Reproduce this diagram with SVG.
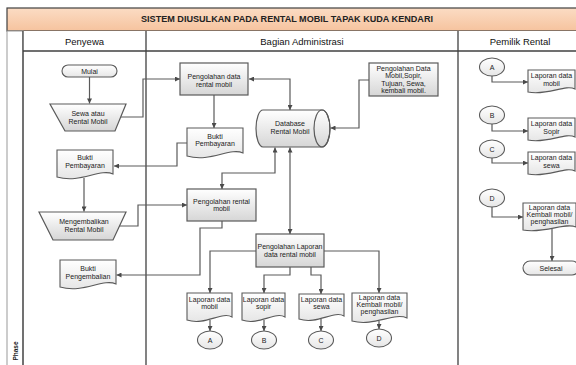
<svg xmlns="http://www.w3.org/2000/svg" width="576" height="365" viewBox="0 0 576 365">
<defs>
<linearGradient id="g" x1="0" y1="0" x2="0" y2="1"><stop offset="0" stop-color="#ffffff"/><stop offset="1" stop-color="#d6d6d6"/></linearGradient>
<linearGradient id="gd" x1="0" y1="0" x2="0" y2="1"><stop offset="0" stop-color="#ffffff"/><stop offset="1" stop-color="#e6e6e6"/></linearGradient>
<linearGradient id="gt" x1="0" y1="0" x2="0" y2="1"><stop offset="0" stop-color="#fbdcc4"/><stop offset="1" stop-color="#f6c39e"/></linearGradient>
<marker id="arr" viewBox="0 0 10 10" refX="10" refY="5" markerWidth="6" markerHeight="5" orient="auto-start-reverse" markerUnits="userSpaceOnUse"><path d="M0,0 L10,5 L0,10 z" fill="#4a4a4a"/></marker>
</defs>
<style>
.lane{fill:none;stroke:#404040;stroke-width:1.3}
.proc{fill:url(#g);stroke:#5a5a5a;stroke-width:1.2}
.doc{fill:url(#gd);stroke:#5a5a5a;stroke-width:1.1}
.term{fill:url(#gd);stroke:#5a5a5a;stroke-width:1.1}
.con{fill:none;stroke:#5a5a5a;stroke-width:1.2}
.a{marker-end:url(#arr)}
.b{marker-start:url(#arr);marker-end:url(#arr)}
text{font-family:"Liberation Sans",Arial,sans-serif;fill:#222;text-anchor:middle}
.t{font-size:7px}
.h{font-size:9.5px;fill:#111}
</style>
<rect x="0" y="0" width="576" height="365" fill="#ffffff"/>
<g id="frame">
<rect x="7" y="8" width="575" height="23" fill="url(#gt)" stroke="#404040" stroke-width="1.2"/>
<text x="287" y="22" font-size="9.5" font-weight="bold" fill="#111" textLength="292" lengthAdjust="spacingAndGlyphs">SISTEM DIUSULKAN PADA RENTAL MOBIL TAPAK KUDA KENDARI</text>
<rect x="7" y="31" width="16" height="340" fill="#ffffff" stroke="#9a9a9a" stroke-width="1"/>
<rect x="23" y="31" width="560" height="20" fill="#ffffff"/>
<line class="lane" x1="23" y1="31" x2="23" y2="370"/>
<line class="lane" x1="146" y1="31" x2="146" y2="370"/>
<line class="lane" x1="458" y1="31" x2="458" y2="370"/>
<line class="lane" x1="23" y1="51" x2="580" y2="51"/>
<text class="h" x="84.5" y="45">Penyewa</text>
<text class="h" x="302" y="45">Bagian Administrasi</text>
<text class="h" x="520" y="45">Pemilik Rental</text>
<text x="17.5" y="351" font-size="6.5" font-weight="bold" fill="#111" transform="rotate(-90 17.5 351)">Phase</text>
</g>
<g id="connectors">
<path class="con a" d="M89.5,77 V103.5"/>
<path class="con a" d="M120.7,117 H143 V79 H180"/>
<path class="con b" d="M249,79 H290 V110"/>
<path class="con a" d="M214,95 V128"/>
<path class="con a" d="M187,143 H177 V166 H114"/>
<path class="con a" d="M84,178 V211.5"/>
<path class="con a" d="M119.5,226 H138 V205 H187"/>
<path class="con b" d="M222,189 V173 H275 V147.5"/>
<path class="con a" d="M369,80 H359 V128 H330.5"/>
<path class="con b" d="M290,147.5 V234"/>
<path class="con a" d="M222,221 V228 H200 V275 H116.5"/>
<path class="con a" d="M256,251 H210 V293"/>
<path class="con a" d="M290,267 V275 H264 V293"/>
<path class="con a" d="M311,267 V275 H321 V294"/>
<path class="con a" d="M324,251 H379 V293"/>
<path class="con a" d="M210,320 V331"/>
<path class="con a" d="M264,320 V331"/>
<path class="con a" d="M321,319 V331"/>
<path class="con a" d="M379,321 V329"/>
<path class="con a" d="M492,76 V82 H528"/>
<path class="con a" d="M492,124 V131 H528"/>
<path class="con a" d="M492,158 V163 H528"/>
<path class="con a" d="M492,207 V217 H523"/>
<path class="con a" d="M552,229 V261"/>
</g>
<g id="mulai"><rect class="term" x="62" y="65" width="55" height="12" rx="6"/><text class="t" x="89.5" y="73.5">Mulai</text></g>
<g id="sewa"><path class="proc" d="M50,104 H126 L115,131 H65 Z"/><text class="t" x="88" y="115.5">Sewa atau</text><text class="t" x="88" y="123.5">Rental Mobil</text></g>
<g id="bukti-bayar-penyewa"><path class="doc" d="M57,150 H113 V174 C100,168 80,184 57,177 Z"/><text class="t" x="85" y="159.5">Bukti</text><text class="t" x="85" y="168">Pembayaran</text></g>
<g id="mengembalikan"><path class="proc" d="M39,212 H126 L113,240 H53 Z"/><text class="t" x="84" y="224">Mengembalikan</text><text class="t" x="84" y="232">Rental Mobil</text></g>
<g id="bukti-kembali"><path class="doc" d="M60,260 H116 V284 C103,278 83,294 60,287 Z"/><text class="t" x="88" y="270.5">Bukti</text><text class="t" x="88" y="278.5">Pengembalian</text></g>
<g id="proses-data"><rect class="proc" x="180" y="63" width="68" height="32"/><text class="t" x="214" y="79">Pengolahan data</text><text class="t" x="214" y="87">rental mobil</text></g>
<g id="bukti-bayar-admin"><path class="doc" d="M187,128 H243 V153 C230,147 210,163 187,156 Z"/><text class="t" x="215" y="138.5">Bukti</text><text class="t" x="215" y="146">Pembayaran</text></g>
<g id="database"><path class="proc" d="M263,110 H322 A8,18.5 0 0 1 322,147 H263 A7,18.5 0 0 1 263,110 Z"/><ellipse cx="322" cy="128.5" rx="8" ry="18.5" fill="none" stroke="#5a5a5a" stroke-width="1.2"/><text class="t" x="290" y="125.5">Database</text><text class="t" x="290" y="134">Rental Mobil</text></g>
<g id="olah-data-master"><rect class="proc" x="369" y="63" width="69" height="33"/><text class="t" x="403.5" y="70.5">Pengolahan Data</text><text class="t" x="403.5" y="78">Mobil,Sopir,</text><text class="t" x="403.5" y="85.5">Tujuan, Sewa,</text><text class="t" x="403.5" y="93">kembali mobil.</text></g>
<g id="proses-rental"><rect class="proc" x="187" y="189" width="69" height="32"/><text class="t" x="221.5" y="203.5">Pengolahan rental</text><text class="t" x="221.5" y="211">mobil</text></g>
<g id="proses-laporan"><rect class="proc" x="256" y="234" width="68" height="33"/><text class="t" x="290" y="249">Pengolahan Laporan</text><text class="t" x="290" y="256.5">data rental mobil</text></g>
<g id="lap-mobil"><path class="doc" d="M187,293 H232 V317 C222,311 205,326 187,320 Z"/><text class="t" x="209.5" y="301.5">Laporan data</text><text class="t" x="209.5" y="309">mobil</text></g>
<g id="lap-sopir"><path class="doc" d="M242,293 H285 V317 C275,311 259,326 242,320 Z"/><text class="t" x="263.5" y="301.5">Laporan data</text><text class="t" x="263.5" y="309">sopir</text></g>
<g id="lap-sewa"><path class="doc" d="M299,294 H344 V316 C334,310 317,325 299,319 Z"/><text class="t" x="321.5" y="302">Laporan data</text><text class="t" x="321.5" y="309">sewa</text></g>
<g id="lap-kembali"><path class="doc" d="M352,293 H407 V318 C394,312 374,327 352,321 Z"/><text class="t" x="379.5" y="300">Laporan data</text><text class="t" x="379.5" y="307">Kembali mobil/</text><text class="t" x="379.5" y="314">penghasilan</text></g>
<g id="conn-a1"><ellipse class="term" cx="210" cy="340" rx="12.5" ry="9"/><text class="t" x="210" y="342.5">A</text></g>
<g id="conn-b1"><ellipse class="term" cx="264" cy="340" rx="12.5" ry="9"/><text class="t" x="264" y="342.5">B</text></g>
<g id="conn-c1"><ellipse class="term" cx="321" cy="340" rx="12.5" ry="9"/><text class="t" x="321" y="342.5">C</text></g>
<g id="conn-d1"><ellipse class="term" cx="379" cy="338" rx="12.5" ry="9"/><text class="t" x="379" y="340.5">D</text></g>
<g id="conn-a2"><ellipse class="term" cx="492" cy="67" rx="12.5" ry="9"/><text class="t" x="492" y="69.5">A</text></g>
<g id="conn-b2"><ellipse class="term" cx="492" cy="115" rx="12.5" ry="9"/><text class="t" x="492" y="117.5">B</text></g>
<g id="conn-c2"><ellipse class="term" cx="492" cy="149" rx="12.5" ry="9"/><text class="t" x="492" y="151.5">C</text></g>
<g id="conn-d2"><ellipse class="term" cx="492" cy="198" rx="12.5" ry="9"/><text class="t" x="492" y="200.5">D</text></g>
<g id="pem-mobil"><path class="doc" d="M528,70 H575 V89 C565,84 548,96 528,92 Z"/><text class="t" x="551.5" y="78">Laporan data</text><text class="t" x="551.5" y="85.5">mobil</text></g>
<g id="pem-sopir"><path class="doc" d="M528,118 H575 V137 C565,132 548,144 528,140 Z"/><text class="t" x="551.5" y="126">Laporan data</text><text class="t" x="551.5" y="133.5">Sopir</text></g>
<g id="pem-sewa"><path class="doc" d="M528,152 H575 V171 C565,166 548,178 528,174 Z"/><text class="t" x="551.5" y="160">Laporan data</text><text class="t" x="551.5" y="167.5">sewa</text></g>
<g id="pem-kembali"><path class="doc" d="M523,203 H576 V227 C565,222 545,234 523,230 Z"/><text class="t" x="549.5" y="210">Laporan data</text><text class="t" x="549.5" y="217">Kembali mobil/</text><text class="t" x="549.5" y="224">penghasilan</text></g>
<g id="selesai"><rect class="term" x="523" y="261" width="56" height="14" rx="7"/><text class="t" x="551" y="270.5">Selesai</text></g>
</svg>
